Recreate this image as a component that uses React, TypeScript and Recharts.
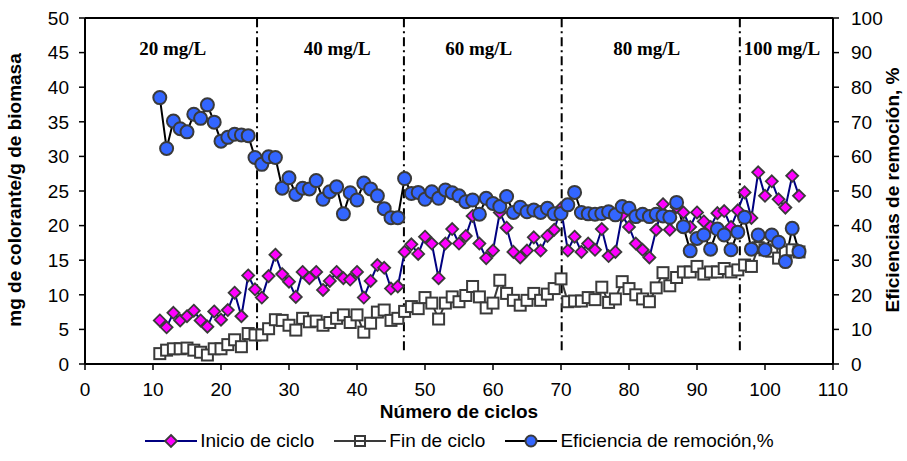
import React from 'react';
import { ComposedChart, Line, XAxis, YAxis, ReferenceLine, ReferenceDot } from 'recharts';

const cycles = [11,12,13,14,15,16,17,18,19,20,21,22,23,24,25,26,27,28,29,30,31,32,33,34,35,36,37,38,39,40,41,42,43,44,45,46,47,48,49,50,51,52,53,54,55,56,57,58,59,60,61,62,63,64,65,66,67,68,69,70,71,72,73,74,75,76,77,78,79,80,81,82,83,84,85,86,87,88,89,90,91,92,93,94,95,96,97,98,99,100,101,102,103,104,105];

const inicio = [6.3,5.3,7.4,6.3,6.9,7.7,6.3,5.4,7.6,6.4,7.8,10.3,6.9,12.8,10.8,9.6,12.7,15.8,13.0,11.9,9.7,13.3,12.4,13.3,10.7,12.0,13.3,12.4,12.2,13.3,9.6,12.0,14.3,13.9,10.9,11.2,16.2,17.3,15.9,18.4,17.4,12.4,17.4,19.5,17.4,18.5,21.4,17.4,15.3,16.4,21.9,19.7,16.2,15.4,16.4,18.3,16.4,18.5,19.4,22.5,16.4,18.4,16.2,17.4,16.5,19.5,15.6,16.2,21.5,19.8,17.4,16.5,15.4,19.4,23.1,19.4,22.7,21.9,19.8,21.9,20.6,19.8,21.8,22.1,19.8,22.2,24.8,21.1,27.7,24.3,26.4,23.8,22.6,27.2,24.3];

const fin = [1.5,2.0,2.2,2.2,2.3,2.0,1.7,1.3,2.2,2.2,2.8,3.5,2.5,4.4,4.2,4.2,5.1,6.4,6.3,5.6,4.9,6.6,6.1,6.2,5.6,6.0,6.6,7.1,6.0,7.1,4.6,5.9,7.5,7.8,6.3,6.6,7.6,8.3,8.0,9.6,8.8,6.5,8.8,9.7,9.0,9.9,11.2,9.7,8.1,8.8,12.1,10.2,9.2,8.5,9.2,10.2,9.2,10.1,10.9,12.3,9.0,9.1,9.1,9.6,9.3,11.1,8.9,9.4,11.9,10.9,10.0,9.4,9.0,11.0,13.2,11.3,12.5,13.3,13.3,14.1,13.0,13.3,13.3,13.8,13.3,13.6,14.3,14.1,16.8,16.5,16.3,15.3,16.2,16.5,16.2];

const eficiencia = [77,62.3,70.2,68,67.1,72.2,71,74.9,69.9,64.4,65.5,66.4,66.2,66,59.7,57.7,59.9,59.7,50.8,53.8,49,50.8,50.6,53,47.6,49.8,51.2,43.4,49.5,47.4,52.3,50.6,48.6,44.9,42.3,42.3,53.6,49.3,49.6,47.6,49.8,47.9,50.3,49.5,48.6,46.9,47.4,43.3,47.9,46.4,45.5,48.4,43.8,45.3,44,44.5,43.8,45,43.4,43.5,46,49.6,43.8,43.4,43.3,43.5,44,43.1,45.5,45,42.6,43.3,42.6,43.3,42.8,42.4,46.7,39.7,32.7,36.3,37.3,33.2,39,37.3,33,38.1,42.4,33.2,37.3,33,37.3,35.2,29.6,39.2,32.5];

const phaseBoundaries = [25.3, 46.9, 70.1, 96.3];
const phaseLabels = ['20 mg/L', '40 mg/L', '60 mg/L', '80 mg/L', '100 mg/L'];
const phaseLabelX = [12.9, 37.1, 57.9, 82.6, 102.5];

const xTicks = [0,10,20,30,40,50,60,70,80,90,100,110];
const leftTicks = [0,5,10,15,20,25,30,35,40,45,50];
const rightTicks = [0,10,20,30,40,50,60,70,80,90,100];

const data = cycles.map((c, i) => ({ ciclo: c, inicio: inicio[i], fin: fin[i], eficiencia: eficiencia[i] }));

const FONT = '"Liberation Sans", Arial, sans-serif';

const DiamondDot = (props: any) => {
  const { cx, cy, index } = props;
  if (cx == null || cy == null) return null;
  const s = 6;
  return (
    <path key={`dm-${index}`} d={`M${cx},${cy - s} L${cx + s},${cy} L${cx},${cy + s} L${cx - s},${cy} Z`}
      fill="#FF00FF" stroke="#3a3a3a" strokeWidth={1.8} />
  );
};

const SquareDot = (props: any) => {
  const { cx, cy, index } = props;
  if (cx == null || cy == null) return null;
  const s = 5.5;
  return (
    <rect key={`sq-${index}`} x={cx - s} y={cy - s} width={2 * s} height={2 * s}
      fill="#FFFFFF" stroke="#3a3a3a" strokeWidth={2} />
  );
};

const CircleDot = (props: any) => {
  const { cx, cy, index } = props;
  if (cx == null || cy == null) return null;
  return <circle key={`ci-${index}`} cx={cx} cy={cy} r={6.5} fill="#3366FF" stroke="#3a3a3a" strokeWidth={2} />;
};

const tickStyle = { fontSize: 19, fill: '#000', fontFamily: FONT };

const LegendIcon = ({ kind }: { kind: string }) => (
  <svg width={52} height={16} style={{ display: 'block' }}>
    <line x1={0} y1={8} x2={52} y2={8} stroke={kind === 'd' ? '#000080' : kind === 's' ? '#3a3a3a' : '#000'} strokeWidth={2} />
    {kind === 'd' && <path d="M26,2 L32,8 L26,14 L20,8 Z" fill="#FF00FF" stroke="#3a3a3a" strokeWidth={1.8} />}
    {kind === 's' && <rect x={21} y={3} width={10} height={10} fill="none" stroke="#3a3a3a" strokeWidth={2} />}
    {kind === 'c' && <circle cx={26} cy={8} r={5.5} fill="#3366FF" stroke="#3a3a3a" strokeWidth={2} />}
  </svg>
);

const legendItems = [
  { kind: 'd', text: 'Inicio de ciclo' },
  { kind: 's', text: 'Fin de ciclo' },
  { kind: 'c', text: 'Eficiencia de remoción,%' },
];

export default function App() {
  return (
    <div style={{ position: 'absolute', left: 0, top: 0, width: 907, height: 461, background: '#fff', fontFamily: FONT }}>
      <ComposedChart width={907} height={461} data={data} margin={{ top: 18, right: 0, bottom: 67, left: 0 }}>
        <XAxis dataKey="ciclo" type="number" domain={[0, 110]} ticks={xTicks} tick={tickStyle}
          axisLine={{ stroke: '#000', strokeWidth: 2 }} tickLine={{ stroke: '#000', strokeWidth: 1.5 }}
          tickSize={6} tickMargin={13} height={30} allowDataOverflow />
        <YAxis yAxisId="left" orientation="left" domain={[0, 50]} ticks={leftTicks} tick={tickStyle}
          axisLine={{ stroke: '#000', strokeWidth: 2 }} tickLine={{ stroke: '#000', strokeWidth: 1.5 }}
          tickSize={6} tickMargin={10} width={85} interval={0} />
        <YAxis yAxisId="right" orientation="right" domain={[0, 100]} ticks={rightTicks} tick={tickStyle}
          axisLine={{ stroke: '#000', strokeWidth: 2 }} tickLine={{ stroke: '#000', strokeWidth: 1.5 }}
          tickSize={6} tickMargin={12} width={74} interval={0} />
        <ReferenceLine yAxisId="left" y={50} stroke="#000" strokeWidth={2} />
        {phaseBoundaries.map((b, i) => (
          <ReferenceLine key={`pb-${i}`} yAxisId="left" segment={[{ x: b, y: 2 }, { x: b, y: 50 }]}
            stroke="#000" strokeWidth={2} strokeDasharray="9 4 2 4" />
        ))}
        {phaseLabels.map((t, i) => (
          <ReferenceDot key={`pl-${i}`} yAxisId="left" x={phaseLabelX[i]} y={45.6} r={1} fill="none" stroke="none"
            label={{ value: t, position: 'center', fill: '#000', fontSize: 19, fontWeight: 700, fontFamily: '"Liberation Serif", "Times New Roman", serif' }} />
        ))}
        <Line yAxisId="left" type="linear" dataKey="inicio" stroke="#000080" strokeWidth={2} dot={DiamondDot} activeDot={false} isAnimationActive={false} />
        <Line yAxisId="left" type="linear" dataKey="fin" stroke="#3a3a3a" strokeWidth={2} dot={SquareDot} activeDot={false} isAnimationActive={false} />
        <Line yAxisId="right" type="linear" dataKey="eficiencia" stroke="#000" strokeWidth={2} dot={CircleDot} activeDot={false} isAnimationActive={false} />
      </ComposedChart>

      <div style={{ position: 'absolute', left: 15, top: 190, transform: 'translate(-50%, -50%) rotate(-90deg)', whiteSpace: 'nowrap', fontWeight: 700, fontSize: 19, color: '#000' }}>
        mg de colorante/g de biomasa
      </div>
      <div style={{ position: 'absolute', left: 893, top: 190, transform: 'translate(-50%, -50%) rotate(-90deg)', whiteSpace: 'nowrap', fontWeight: 700, fontSize: 19, color: '#000' }}>
        Eficiencias de remoción, %
      </div>
      <div style={{ position: 'absolute', left: 459, top: 412, transform: 'translate(-50%, -50%)', whiteSpace: 'nowrap', fontWeight: 700, fontSize: 19, color: '#000' }}>
        Número de ciclos
      </div>
      <div style={{ position: 'absolute', left: 0, width: 907, top: 430, display: 'flex', justifyContent: 'center', alignItems: 'center', gap: 20, fontSize: 19, color: '#000', paddingLeft: 12, boxSizing: 'border-box' }}>
        {legendItems.map((it) => (
          <div key={it.text} style={{ display: 'flex', alignItems: 'center', gap: 3 }}>
            <LegendIcon kind={it.kind} />
            <span>{it.text}</span>
          </div>
        ))}
      </div>
    </div>
  );
}
